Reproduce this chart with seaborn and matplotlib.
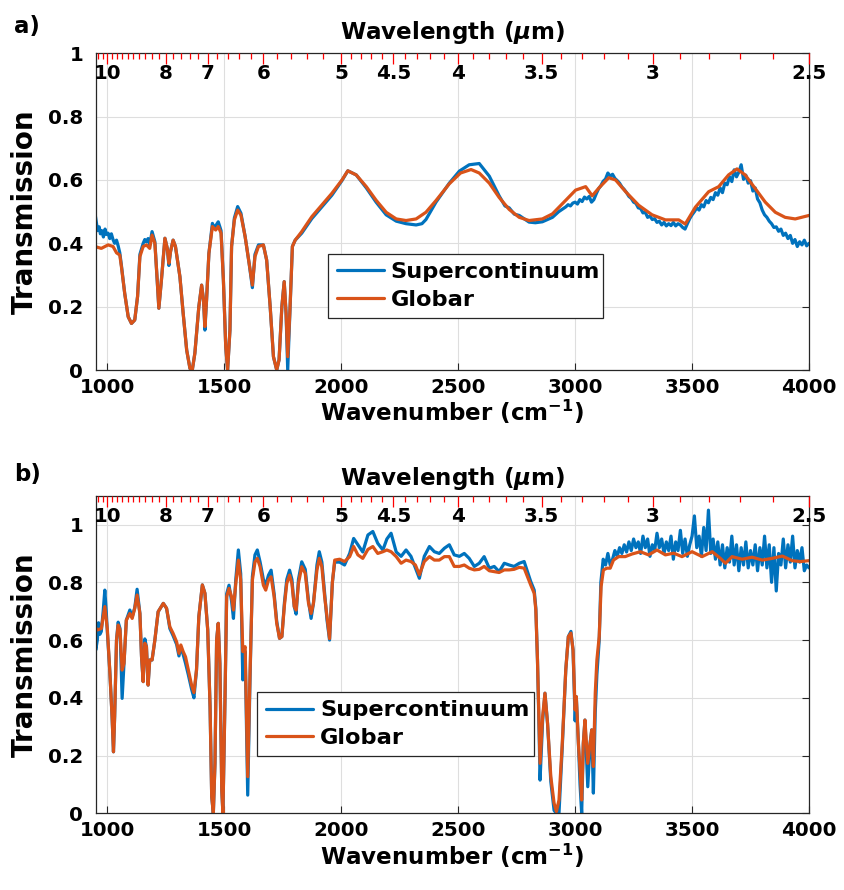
import numpy as np
import pandas as pd
import matplotlib
matplotlib.use("Agg")
import matplotlib.pyplot as plt
import matplotlib.transforms as mtransforms
from matplotlib.ticker import FixedLocator, FixedFormatter, NullFormatter
import seaborn as sns

# ---------------- data ----------------
# Panel a, Globar
glob_a_wn = [946, 974, 1003, 1024, 1039, 1053, 1060, 1074, 1089, 1103,
             1117, 1129, 1139, 1153, 1167, 1181, 1191, 1203, 1213, 1220,
             1231, 1246, 1256, 1263, 1270, 1281, 1291, 1310, 1324, 1339,
             1353, 1363, 1374, 1391, 1403, 1411, 1417, 1424, 1434, 1449,
             1463, 1474, 1486, 1496, 1506, 1514, 1524, 1531, 1543, 1557,
             1571, 1589, 1606, 1620, 1631, 1646, 1667, 1681, 1696, 1710,
             1724, 1734, 1746, 1756, 1764, 1771, 1780, 1791, 1803, 1831,
             1874, 1917, 1960, 2003, 2028, 2064, 2107, 2149, 2192, 2235,
             2277, 2320, 2362, 2405, 2462, 2510, 2555, 2590, 2633, 2675,
             2718, 2761, 2803, 2860, 2903, 2960, 3002, 3045, 3073, 3102,
             3144, 3173, 3216, 3272, 3329, 3386, 3443, 3471, 3514, 3571,
             3614, 3656, 3692, 3727, 3770, 3813, 3856, 3898, 3941, 4000]
glob_a_val = [0.390, 0.384, 0.395, 0.390, 0.370, 0.363, 0.326, 0.242, 0.168, 0.147,
              0.158, 0.232, 0.358, 0.390, 0.395, 0.384, 0.426, 0.400, 0.284, 0.195,
              0.284, 0.416, 0.384, 0.337, 0.374, 0.410, 0.390, 0.295, 0.179, 0.063,
              0.005, 0.000, 0.053, 0.200, 0.268, 0.221, 0.137, 0.221, 0.368, 0.453,
              0.442, 0.453, 0.432, 0.284, 0.074, 0.000, 0.126, 0.390, 0.474, 0.505,
              0.489, 0.421, 0.337, 0.268, 0.358, 0.390, 0.395, 0.347, 0.200, 0.042,
              0.000, 0.032, 0.200, 0.279, 0.179, 0.042, 0.179, 0.390, 0.410, 0.437,
              0.484, 0.521, 0.558, 0.600, 0.629, 0.616, 0.579, 0.536, 0.498, 0.477,
              0.472, 0.477, 0.498, 0.535, 0.588, 0.622, 0.633, 0.622, 0.590, 0.545,
              0.507, 0.482, 0.472, 0.477, 0.493, 0.536, 0.568, 0.579, 0.550, 0.575,
              0.607, 0.600, 0.563, 0.520, 0.490, 0.474, 0.474, 0.461, 0.514, 0.563,
              0.579, 0.616, 0.635, 0.616, 0.573, 0.530, 0.498, 0.482, 0.477, 0.488]

# Panel a, Supercontinuum (smooth part)
sc_a_wn = [946, 952, 958, 965, 970, 976, 983, 990, 996, 1003,
           1010, 1017, 1024, 1031, 1039, 1046, 1053, 1060, 1074, 1089,
           1103, 1117, 1129, 1139, 1153, 1160, 1167, 1174, 1181, 1191,
           1203, 1213, 1220, 1231, 1246, 1256, 1263, 1270, 1281, 1291,
           1310, 1324, 1339, 1353, 1363, 1374, 1391, 1403, 1411, 1417,
           1424, 1434, 1449, 1456, 1463, 1474, 1486, 1496, 1506, 1514,
           1524, 1531, 1543, 1557, 1571, 1589, 1606, 1620, 1631, 1646,
           1667, 1681, 1696, 1710, 1724, 1734, 1746, 1756, 1764, 1771,
           1780, 1791, 1803, 1831, 1874, 1917, 1960, 2003, 2028, 2064,
           2107, 2149, 2192, 2235, 2277, 2320, 2345, 2362, 2405, 2462,
           2505, 2547, 2590, 2633, 2675, 2700, 2718, 2740, 2761, 2803,
           2830, 2860, 2903, 2930, 2950]
sc_a_val = [0.500, 0.470, 0.440, 0.452, 0.430, 0.440, 0.420, 0.445, 0.428, 0.432,
            0.415, 0.430, 0.412, 0.400, 0.410, 0.392, 0.370, 0.330, 0.242, 0.168,
            0.147, 0.158, 0.232, 0.365, 0.400, 0.412, 0.405, 0.415, 0.395, 0.437,
            0.405, 0.284, 0.195, 0.284, 0.416, 0.384, 0.330, 0.374, 0.410, 0.390,
            0.295, 0.179, 0.063, 0.005, 0.000, 0.053, 0.200, 0.268, 0.221, 0.126,
            0.221, 0.368, 0.463, 0.450, 0.455, 0.468, 0.440, 0.284, 0.074, 0.000,
            0.126, 0.390, 0.480, 0.516, 0.495, 0.421, 0.337, 0.260, 0.365, 0.395,
            0.395, 0.347, 0.200, 0.042, 0.000, 0.032, 0.200, 0.279, 0.179, 0.000,
            0.179, 0.390, 0.410, 0.432, 0.478, 0.515, 0.552, 0.598, 0.629, 0.616,
            0.575, 0.530, 0.490, 0.470, 0.462, 0.458, 0.462, 0.475, 0.530, 0.590,
            0.628, 0.648, 0.652, 0.612, 0.550, 0.518, 0.512, 0.492, 0.488, 0.467,
            0.465, 0.468, 0.482, 0.500, 0.510]
# Panel a, Supercontinuum (noisy part, sampled every 10 cm^-1 from 2960)
sc_a_noisy_start, sc_a_noisy_step = 2960, 10
sc_a_noisy_val = [0.515, 0.522, 0.518, 0.527, 0.530, 0.524, 0.538, 0.532, 0.546, 0.540,
                  0.548, 0.530, 0.538, 0.556, 0.572, 0.582, 0.596, 0.603, 0.622, 0.612,
                  0.618, 0.605, 0.598, 0.590, 0.578, 0.570, 0.560, 0.548, 0.542, 0.530,
                  0.526, 0.512, 0.510, 0.496, 0.498, 0.482, 0.486, 0.475, 0.478, 0.466,
                  0.470, 0.458, 0.466, 0.455, 0.462, 0.456, 0.466, 0.455, 0.462, 0.458,
                  0.450, 0.445, 0.462, 0.478, 0.490, 0.500, 0.512, 0.505, 0.522, 0.515,
                  0.535, 0.528, 0.545, 0.538, 0.560, 0.552, 0.575, 0.560, 0.590, 0.585,
                  0.610, 0.595, 0.632, 0.610, 0.625, 0.648, 0.602, 0.615, 0.590, 0.598,
                  0.565, 0.575, 0.540, 0.528, 0.505, 0.490, 0.482, 0.470, 0.462, 0.450,
                  0.452, 0.438, 0.445, 0.425, 0.432, 0.415, 0.425, 0.400, 0.412, 0.390,
                  0.405, 0.395, 0.410, 0.392, 0.400]

# Panel b, Globar
glob_b_wn = [946, 957, 974, 989, 1000, 1010, 1020, 1026, 1031, 1039,
             1046, 1054, 1063, 1071, 1081, 1096, 1106, 1117, 1127, 1139,
             1146, 1153, 1160, 1167, 1174, 1181, 1191, 1203, 1217, 1239,
             1253, 1267, 1281, 1296, 1306, 1314, 1324, 1334, 1346, 1360,
             1370, 1381, 1391, 1406, 1417, 1429, 1439, 1446, 1453, 1460,
             1467, 1474, 1481, 1489, 1494, 1503, 1510, 1520, 1531, 1539,
             1549, 1560, 1570, 1579, 1589, 1600, 1610, 1620, 1631, 1641,
             1653, 1667, 1677, 1689, 1700, 1713, 1724, 1736, 1746, 1757,
             1767, 1779, 1789, 1799, 1807, 1817, 1831, 1846, 1860, 1871,
             1881, 1896, 1906, 1917, 1929, 1939, 1950, 1962, 1972, 1993,
             2014, 2036, 2053, 2071, 2092, 2114, 2135, 2156, 2178, 2195,
             2213, 2235, 2256, 2277, 2298, 2317, 2334, 2355, 2377, 2398,
             2419, 2441, 2462, 2483, 2505, 2526, 2547, 2569, 2590, 2611,
             2633, 2654, 2675, 2697, 2718, 2739, 2761, 2782, 2796, 2810,
             2825, 2832, 2839, 2846, 2850, 2861, 2871, 2882, 2896, 2910,
             2920, 2931, 2945, 2960, 2971, 2982, 2991, 3000, 3005, 3014,
             3021, 3028, 3035, 3042, 3054, 3064, 3071, 3078, 3086, 3093,
             3103, 3111, 3121, 3136, 3150, 3164, 3186, 3214, 3243, 3279,
             3314, 3350, 3386, 3421, 3457, 3500, 3543, 3586, 3621, 3643,
             3671, 3714, 3757, 3800, 3843, 3886, 3928, 3964, 4000]
glob_b_val = [0.646, 0.635, 0.640, 0.716, 0.635, 0.496, 0.335, 0.213, 0.335, 0.600,
              0.652, 0.635, 0.496, 0.519, 0.669, 0.692, 0.675, 0.710, 0.756, 0.692,
              0.542, 0.456, 0.589, 0.577, 0.444, 0.531, 0.531, 0.600, 0.698, 0.727,
              0.710, 0.646, 0.623, 0.594, 0.554, 0.583, 0.560, 0.542, 0.496, 0.444,
              0.418, 0.496, 0.681, 0.791, 0.762, 0.635, 0.369, 0.058, 0.000, 0.173,
              0.600, 0.658, 0.519, 0.081, 0.000, 0.404, 0.750, 0.779, 0.750, 0.704,
              0.796, 0.877, 0.808, 0.560, 0.577, 0.127, 0.485, 0.808, 0.870, 0.883,
              0.854, 0.790, 0.773, 0.808, 0.819, 0.750, 0.658, 0.606, 0.612, 0.721,
              0.796, 0.825, 0.796, 0.716, 0.704, 0.796, 0.854, 0.831, 0.727, 0.692,
              0.727, 0.842, 0.883, 0.854, 0.750, 0.680, 0.605, 0.800, 0.877, 0.880,
              0.872, 0.889, 0.924, 0.895, 0.883, 0.914, 0.924, 0.900, 0.906, 0.912,
              0.906, 0.889, 0.866, 0.877, 0.872, 0.860, 0.826, 0.872, 0.889, 0.877,
              0.877, 0.889, 0.889, 0.855, 0.855, 0.860, 0.849, 0.843, 0.845, 0.855,
              0.840, 0.837, 0.834, 0.843, 0.843, 0.845, 0.852, 0.849, 0.820, 0.791,
              0.762, 0.704, 0.531, 0.300, 0.173, 0.335, 0.416, 0.312, 0.127, 0.035,
              0.006, 0.046, 0.242, 0.497, 0.612, 0.624, 0.566, 0.358, 0.404, 0.242,
              0.150, 0.046, 0.242, 0.323, 0.173, 0.242, 0.289, 0.162, 0.416, 0.531,
              0.612, 0.785, 0.843, 0.849, 0.849, 0.877, 0.889, 0.889, 0.898, 0.906,
              0.895, 0.912, 0.895, 0.901, 0.889, 0.906, 0.889, 0.906, 0.883, 0.866,
              0.889, 0.880, 0.887, 0.877, 0.883, 0.891, 0.875, 0.872, 0.875]

# Panel b, Supercontinuum (smooth part)
sc_b_wn = [946, 950, 957, 962, 968, 974, 982, 989, 995, 1000,
           1010, 1020, 1026, 1031, 1039, 1046, 1054, 1063, 1071, 1081,
           1096, 1106, 1117, 1127, 1139, 1146, 1153, 1160, 1167, 1174,
           1181, 1191, 1203, 1217, 1239, 1253, 1267, 1281, 1296, 1306,
           1314, 1324, 1334, 1346, 1360, 1370, 1381, 1391, 1406, 1417,
           1429, 1439, 1446, 1453, 1460, 1467, 1474, 1481, 1489, 1494,
           1503, 1510, 1520, 1531, 1539, 1549, 1560, 1570, 1579, 1589,
           1600, 1610, 1620, 1631, 1641, 1653, 1667, 1677, 1689, 1700,
           1713, 1724, 1736, 1746, 1757, 1767, 1779, 1789, 1799, 1807,
           1817, 1831, 1846, 1860, 1871, 1881, 1896, 1906, 1917, 1929,
           1939, 1950, 1962, 1972, 1993, 2014, 2036, 2053, 2071, 2092,
           2114, 2135, 2156, 2178, 2195, 2213, 2235, 2256, 2277, 2298,
           2317, 2334, 2355, 2377, 2398, 2419, 2441, 2462, 2483, 2505,
           2526, 2547, 2569, 2590, 2611, 2633, 2654, 2675, 2697, 2718,
           2739, 2761, 2782, 2796, 2810, 2825, 2832, 2839, 2846, 2850,
           2861, 2871, 2882, 2896, 2910, 2920, 2931, 2945, 2960, 2971,
           2982, 2991, 3000, 3005, 3014, 3021, 3028, 3035, 3042, 3054,
           3064, 3071, 3078, 3086, 3093, 3103]
sc_b_val = [0.756, 0.565, 0.600, 0.660, 0.620, 0.630, 0.700, 0.773, 0.700, 0.625,
            0.496, 0.335, 0.213, 0.335, 0.600, 0.662, 0.640, 0.398, 0.519, 0.669,
            0.704, 0.680, 0.712, 0.776, 0.692, 0.542, 0.456, 0.604, 0.577, 0.444,
            0.531, 0.531, 0.600, 0.698, 0.727, 0.710, 0.640, 0.615, 0.585, 0.545,
            0.575, 0.550, 0.520, 0.480, 0.430, 0.400, 0.496, 0.681, 0.791, 0.762,
            0.635, 0.369, 0.058, 0.000, 0.173, 0.600, 0.658, 0.519, 0.081, 0.000,
            0.404, 0.760, 0.790, 0.735, 0.675, 0.810, 0.912, 0.830, 0.462, 0.560,
            0.063, 0.470, 0.820, 0.895, 0.912, 0.870, 0.810, 0.790, 0.825, 0.842,
            0.760, 0.665, 0.606, 0.612, 0.730, 0.810, 0.842, 0.810, 0.716, 0.690,
            0.810, 0.871, 0.845, 0.735, 0.675, 0.727, 0.860, 0.906, 0.870, 0.760,
            0.670, 0.600, 0.800, 0.870, 0.870, 0.860, 0.900, 0.952, 0.930, 0.905,
            0.964, 0.976, 0.935, 0.912, 0.950, 0.970, 0.905, 0.890, 0.912, 0.890,
            0.850, 0.814, 0.890, 0.924, 0.906, 0.900, 0.918, 0.930, 0.895, 0.890,
            0.900, 0.883, 0.855, 0.866, 0.889, 0.849, 0.855, 0.837, 0.866, 0.860,
            0.855, 0.866, 0.872, 0.837, 0.803, 0.773, 0.710, 0.530, 0.280, 0.115,
            0.320, 0.416, 0.312, 0.110, 0.010, 0.000, 0.000, 0.230, 0.497, 0.612,
            0.630, 0.566, 0.320, 0.404, 0.242, 0.100, 0.000, 0.242, 0.323, 0.092,
            0.242, 0.289, 0.070, 0.350, 0.480, 0.600]
# Panel b, Supercontinuum (noisy part, sampled every 10 cm^-1 from 3110)
sc_b_noisy_start, sc_b_noisy_step = 3110, 10
sc_b_noisy_val = [0.80, 0.88, 0.86, 0.90, 0.86, 0.88, 0.91, 0.89, 0.92, 0.90,
                  0.93, 0.905, 0.94, 0.91, 0.95, 0.92, 0.94, 0.90, 0.96, 0.92,
                  0.95, 0.89, 0.93, 0.91, 0.97, 0.92, 0.95, 0.90, 0.94, 0.91,
                  0.96, 0.88, 0.94, 0.91, 0.98, 0.90, 0.95, 0.89, 0.93, 0.96,
                  1.03, 0.92, 0.96, 0.89, 0.99, 0.91, 1.05, 0.90, 0.95, 0.88,
                  0.94, 0.86, 0.93, 0.85, 0.92, 0.87, 0.96, 0.86, 0.93, 0.84,
                  0.92, 0.86, 0.94, 0.85, 0.91, 0.86, 0.93, 0.84, 0.92, 0.86,
                  0.96, 0.85, 0.93, 0.80, 0.92, 0.77, 0.90, 0.86, 0.95, 0.85,
                  0.93, 0.87, 0.96, 0.85, 0.91, 0.87, 0.92, 0.84, 0.86, 0.85]

# axes / tick text
x_ticks = [1000, 1500, 2000, 2500, 3000, 3500, 4000]
y_ticks = [0, 0.2, 0.4, 0.6, 0.8, 1.0]
y_tick_labels = ["0", "0.2", "0.4", "0.6", "0.8", "1"]
wl_major = [10, 8, 7, 6, 5, 4.5, 4, 3.5, 3, 2.5]
wl_major_labels = ["10", "8", "7", "6", "5", "4.5", "4", "3.5", "3", "2.5"]
wl_minor = [10.4, 10.2, 9.8, 9.6, 9.4, 9.2, 9.0, 8.8, 8.6, 8.4, 8.2,
            7.8, 7.6, 7.4, 7.2, 6.8, 6.6, 6.4, 6.2, 5.8, 5.6, 5.4, 5.2,
            4.9, 4.8, 4.7, 4.6, 4.4, 4.3, 4.2, 4.1, 3.9, 3.8, 3.7, 3.6,
            3.4, 3.3, 3.2, 3.1, 2.9, 2.8, 2.7, 2.6]
series_names = ["Supercontinuum", "Globar"]
panel_letters = ["a)", "b)"]

BLUE = "#0072BD"
ORANGE = "#D95319"
XLIM = (950, 4000)


def make_frame(wn, val, name):
    return pd.DataFrame({"wn": wn, "T": val, "series": name})


sc_a_noisy_wn = sc_a_noisy_start + sc_a_noisy_step * np.arange(len(sc_a_noisy_val))
sc_b_noisy_wn = sc_b_noisy_start + sc_b_noisy_step * np.arange(len(sc_b_noisy_val))

panels = [
    dict(sc=make_frame(list(sc_a_wn) + list(sc_a_noisy_wn), sc_a_val + sc_a_noisy_val, series_names[0]),
         gl=make_frame(glob_a_wn, glob_a_val, series_names[1]),
         ylim=(0, 1.0), legend_box=(0.3257, 0.164, 0.385, 0.2),
         rect=[95.7, 53.3, 809.0, 370.0], title_y=33, letter_y=27),
    dict(sc=make_frame(list(sc_b_wn) + list(sc_b_noisy_wn), sc_b_val + sc_b_noisy_val, series_names[0]),
         gl=make_frame(glob_b_wn, glob_b_val, series_names[1]),
         ylim=(0, 1.1), legend_box=(0.2266, 0.18, 0.388, 0.2),
         rect=[95.7, 495.7, 809.0, 813.3], title_y=479, letter_y=474),
]

sns.set_theme(style="white")
plt.rcParams["font.family"] = ["DejaVu Sans"]
plt.rcParams["font.weight"] = "bold"
plt.rcParams["text.color"] = "black"
plt.rcParams["axes.labelcolor"] = "black"
plt.rcParams["xtick.color"] = "black"
plt.rcParams["ytick.color"] = "black"
plt.rcParams["mathtext.fontset"] = "custom"
plt.rcParams["mathtext.rm"] = "DejaVu Sans:bold"
plt.rcParams["mathtext.it"] = "DejaVu Sans:italic:bold"
plt.rcParams["mathtext.bf"] = "DejaVu Sans:bold"

W, H = 845, 890
fig = plt.figure(figsize=(W / 100, H / 100), dpi=100)
fig.patch.set_facecolor("white")

TICK_FS = 14.3
LABEL_FS = 16.6
YLABEL_FS = 20
LEG_FS = 16.2
LETTER_FS = 16.5
AXCOL = "#262626"

for i, p in enumerate(panels):
    l, t, r, b = p["rect"]
    ax = fig.add_axes([l / W, 1 - b / H, (r - l) / W, (b - t) / H])
    ax.set_facecolor("white")
    sns.lineplot(data=p["sc"], x="wn", y="T", ax=ax, color=BLUE, lw=2.3,
                 label=series_names[0], estimator=None, sort=False)
    sns.lineplot(data=p["gl"], x="wn", y="T", ax=ax, color=ORANGE, lw=2.3,
                 label=series_names[1], estimator=None, sort=False)
    ax.set_xlim(*XLIM)
    ax.set_ylim(*p["ylim"])
    ax.xaxis.set_major_locator(FixedLocator(x_ticks))
    ax.set_xticklabels([str(v) for v in x_ticks])
    ax.yaxis.set_major_locator(FixedLocator(y_ticks))
    ax.yaxis.set_major_formatter(FixedFormatter(y_tick_labels))
    ax.grid(True, color="#dedede", lw=0.8)
    ax.set_axisbelow(True)
    ax.tick_params(axis="both", which="major", direction="in", length=5, width=0.8,
                   color=AXCOL, labelcolor="black", labelsize=TICK_FS,
                   top=True, right=True)
    ax.tick_params(axis="x", pad=5.5)
    ax.tick_params(axis="y", pad=9)
    for lab in ax.get_xticklabels() + ax.get_yticklabels():
        lab.set_fontweight("bold")
    for s in ax.spines.values():
        s.set_color(AXCOL)
        s.set_linewidth(0.9)
        s.set_visible(True)

    ax.set_xlabel(r"Wavenumber (cm$^{-1}$)", fontsize=LABEL_FS, fontweight="bold")
    ax.set_ylabel("Transmission", fontsize=YLABEL_FS, fontweight="bold")
    ax.xaxis.set_label_coords(0.5, -0.089)
    ax.yaxis.set_label_coords(-0.08, 0.5)

    # top wavelength axis
    tw = ax.twiny()
    tw.set_xlim(*XLIM)
    tw.xaxis.set_major_locator(FixedLocator([1e4 / w for w in wl_major]))
    tw.xaxis.set_minor_locator(FixedLocator([1e4 / w for w in wl_minor]))
    tw.xaxis.set_major_formatter(NullFormatter())
    tw.tick_params(axis="x", which="major", direction="in", length=8, width=0.9,
                   color="red", top=True, bottom=False, labeltop=False)
    tw.tick_params(axis="x", which="minor", direction="in", length=4, width=0.9,
                   color="red", top=True, bottom=False)
    for s in tw.spines.values():
        s.set_visible(False)
    tw.grid(False)
    trans = mtransforms.blended_transform_factory(ax.transData, ax.transAxes)
    for w, lab in zip(wl_major, wl_major_labels):
        ax.text(1e4 / w, 0.935, lab, transform=trans, ha="center", va="center",
                fontsize=TICK_FS, fontweight="bold", color="black", zorder=5)

    ax.text(0.5, 1 - (p["title_y"] - t) / (b - t), r"Wavelength ($\mu$m)",
            transform=ax.transAxes, ha="center", va="center",
            fontsize=LABEL_FS, fontweight="bold", color="black")
    fig.text(14 / W, 1 - p["letter_y"] / H, panel_letters[i], ha="left", va="center",
             fontsize=LETTER_FS, fontweight="bold", color="black")

    leg = ax.legend(loc="lower left", bbox_to_anchor=p["legend_box"], mode="expand",
                    fontsize=LEG_FS, frameon=True, fancybox=False, framealpha=1,
                    edgecolor=AXCOL, borderaxespad=0, handlelength=2.1,
                    handletextpad=0.3, labelspacing=0.32, borderpad=0.38)
    leg.get_frame().set_linewidth(0.9)
    for txt in leg.get_texts():
        txt.set_fontweight("bold")
        txt.set_color("black")
    leg.set_zorder(10)

fig.savefig("out.png", dpi=100, facecolor="white")
